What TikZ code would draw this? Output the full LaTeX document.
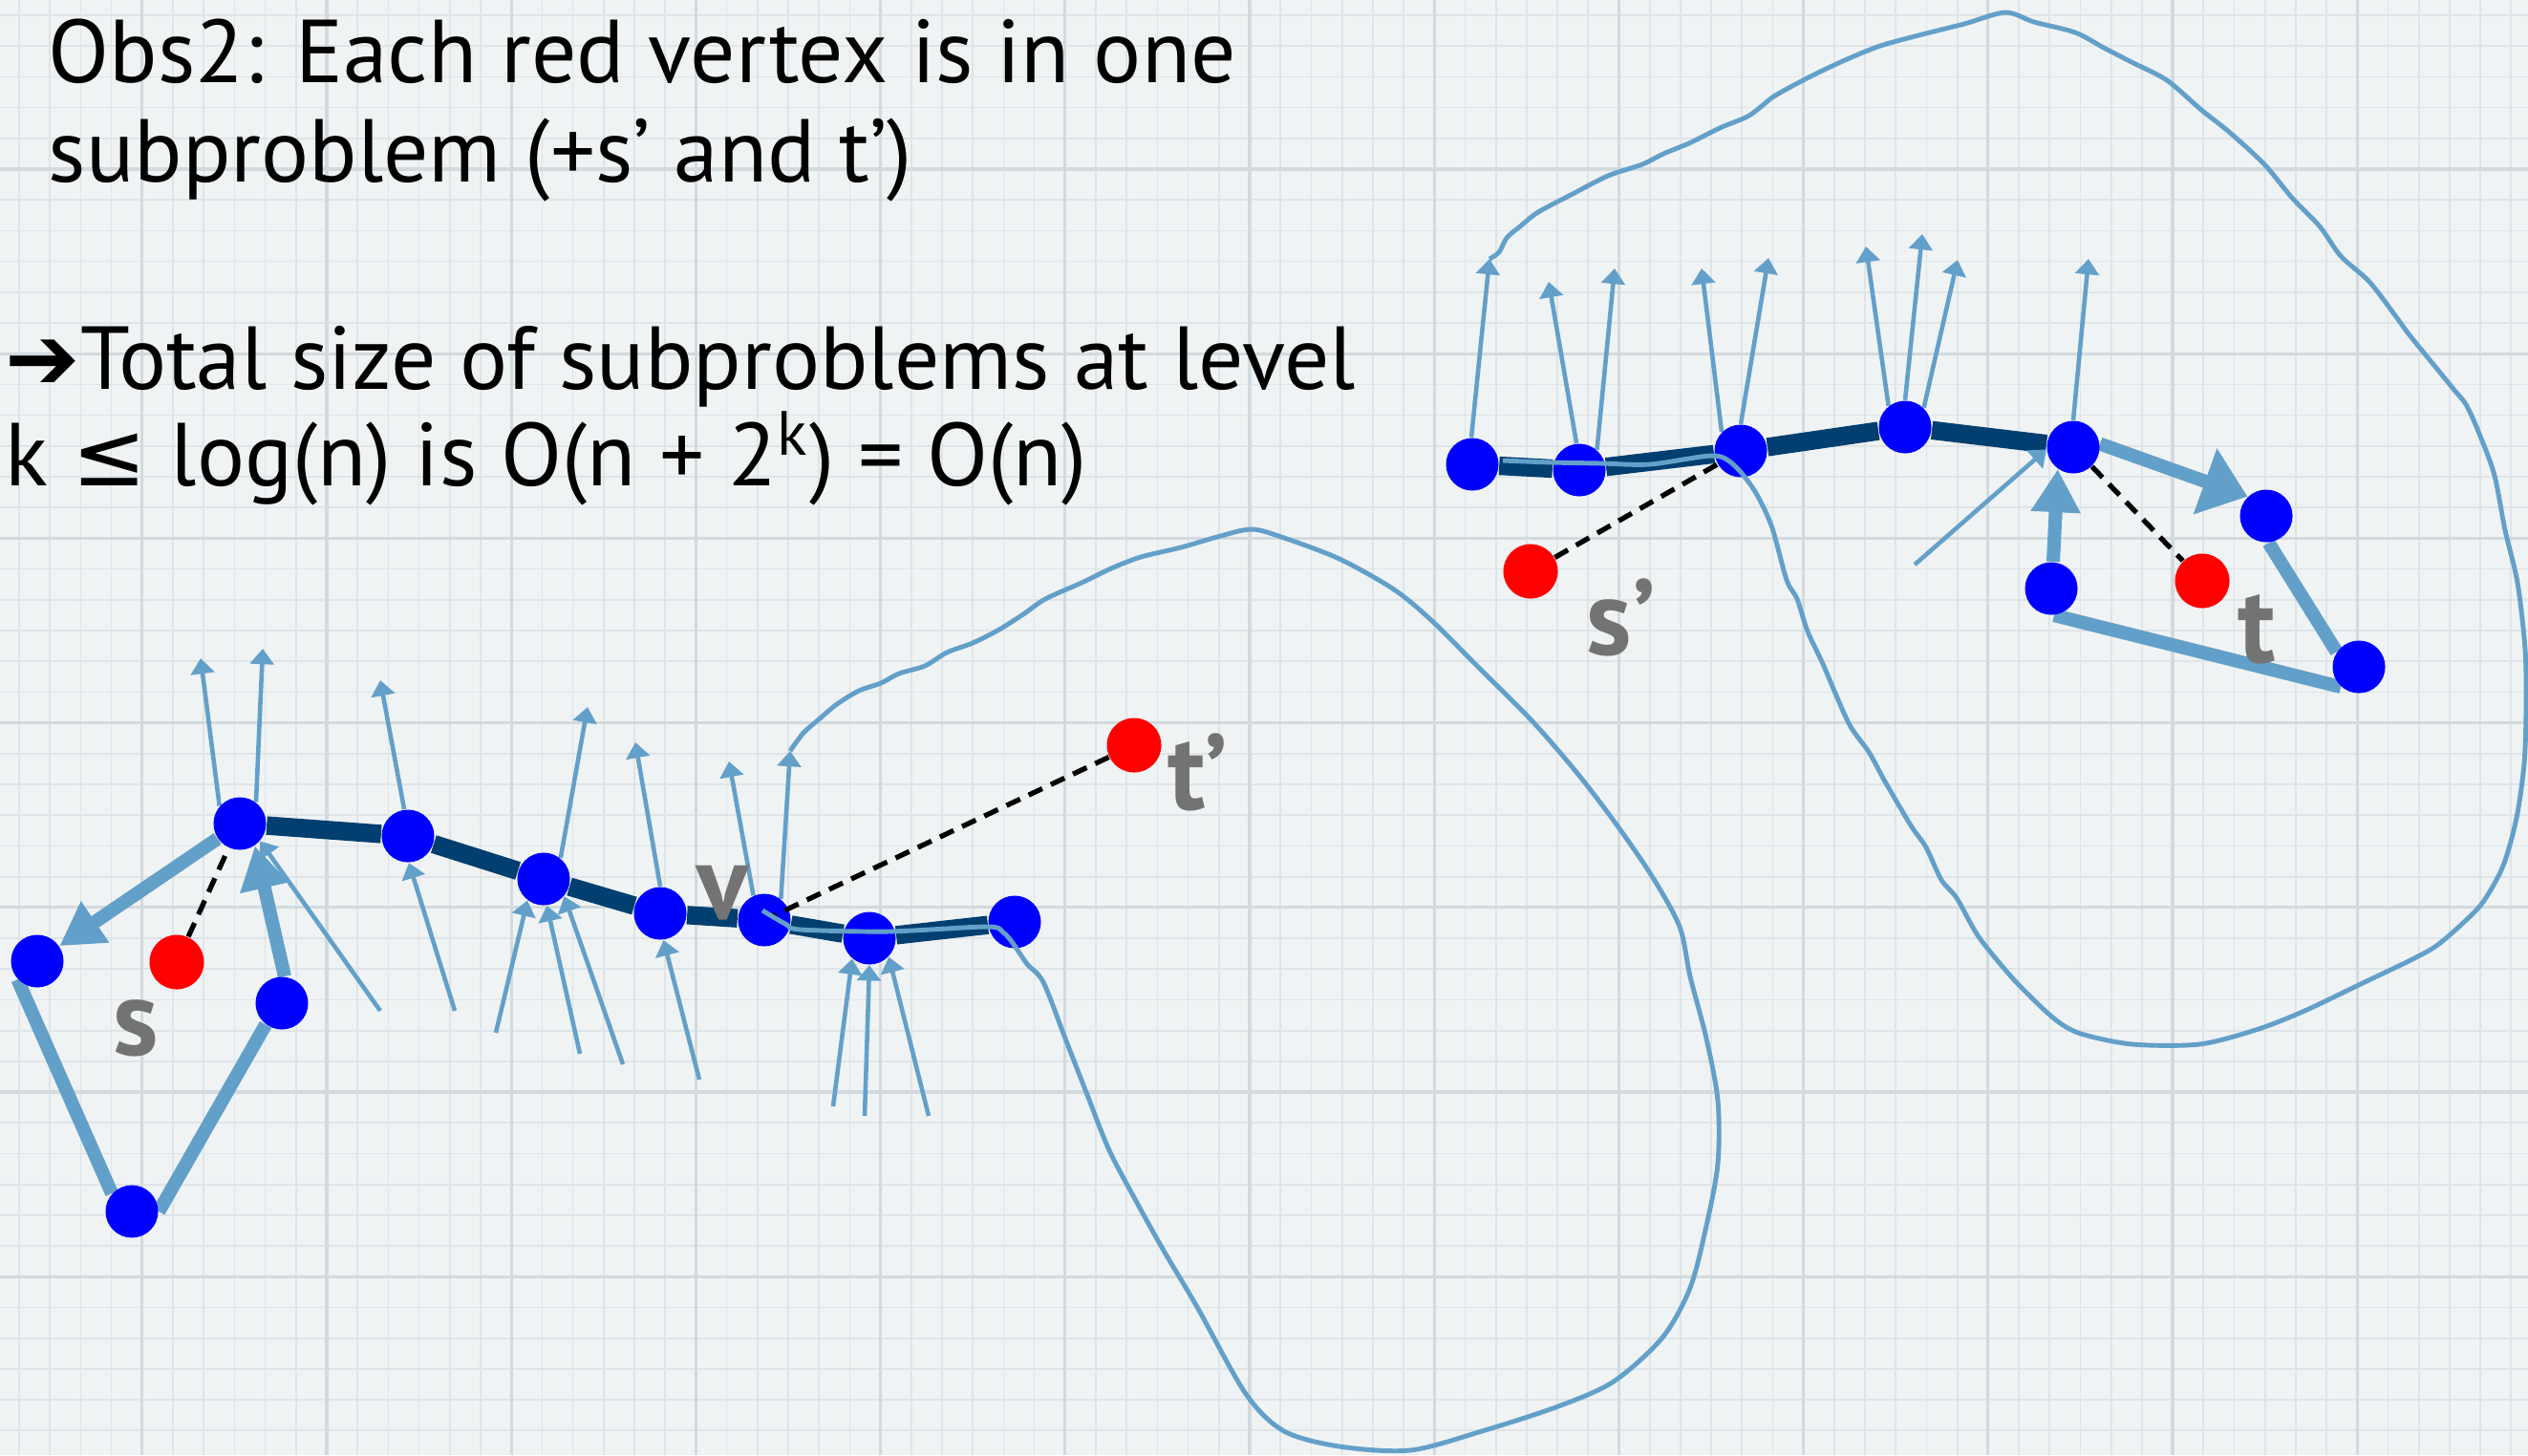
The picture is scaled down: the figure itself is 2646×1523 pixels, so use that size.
\documentclass[tikz,border=0pt]{standalone}
\usepackage{fontspec}
\setmainfont{PT Sans}
\newfontfamily\simboli{DejaVu Sans}
\usetikzlibrary{arrows.meta}
\pgfdeclarelayer{sfondo}
\pgfdeclarelayer{archi}
\pgfsetlayers{sfondo,archi,main}
\definecolor{carta}{HTML}{F0F3F4}
\definecolor{griglia}{HTML}{DEE4E7}
\definecolor{griglia2}{HTML}{D2DADE}
\definecolor{blu}{HTML}{0000FF}
\definecolor{rosso}{HTML}{FF0000}
\definecolor{notte}{HTML}{003F6F}
\definecolor{celeste}{HTML}{63A0C9}
\definecolor{grigio}{HTML}{737373}

\begin{document}
\begin{tikzpicture}[x=0.01cm,y=-0.01cm,
    vblu/.style={circle,fill=blu,inner sep=0pt,minimum size=0.55cm},
    vrosso/.style={circle,fill=rosso,inner sep=0pt,minimum size=0.57cm},
    cammino/.style={notte,line width=5.5pt},
    arcochiaro/.style={celeste,line width=4pt},
    frecciagrande/.style={arcochiaro,-{Triangle[length=12.8pt,width=14pt]}},
    freccialarga/.style={arcochiaro,-{Triangle[length=13.4pt,width=20pt]}},
    freccia/.style={celeste,line width=1.3pt,-{Triangle[length=4.6pt,width=7pt]}},
    tratteggio/.style={black,line width=1.5pt,dash pattern=on 4.5pt off 2.8pt},
    contorno/.style={celeste,line width=1.4pt,line join=round},
    etich/.style={grigio,anchor=base west,inner sep=0pt,
                  font=\fontsize{32}{32}\selectfont\bfseries},
    testo/.style={anchor=base west,inner sep=0pt,
                  font=\fontsize{26.6}{26.6}\selectfont}]

  \useasboundingbox (0,0) rectangle (2646,1523);

  % --- carta a quadretti ---
  \begin{pgfonlayer}{sfondo}
    \fill[carta] (0,0) rectangle (2646,1523);
    \foreach \i in {0,...,81}{
      \draw[griglia,line width=0.5pt] ({20+32.2*\i},0) -- ({20+32.2*\i},1523);
    }
    \foreach \i in {0,...,46}{
      \draw[griglia,line width=0.5pt] (0,{16+32.2*\i}) -- (2646,{16+32.2*\i});
    }
    \foreach \i in {4,10,...,81}{
      \draw[griglia2,line width=0.9pt] ({20+32.2*\i},0) -- ({20+32.2*\i},1523);
    }
    \foreach \i in {5,11,...,46}{
      \draw[griglia2,line width=0.9pt] (0,{16+32.2*\i}) -- (2646,{16+32.2*\i});
    }
  \end{pgfonlayer}

  % --- testo ---
  \node[testo] (riga1) at (50,86) {Obs2: Each red vertex is in one};
  \node[testo] (riga2) at (50,190) {subproblem (+s’ and t’)};
  \node[testo] (riga3) at (5,407) {{\simboli ➔}Total size of subproblems at level};
  \node[testo] (riga4) at (5,508) {k {\simboli ≤} log(n) is O(n + 2\textsuperscript{k}) = O(n)};

  % --- vertici del primo sottoproblema ---
  \foreach \n/\x/\y in {a1/251/862, a2/427/875, a3/569/920, a4/691/956,
                        a5/800/963, a6/910/982, a7/1062/965,
                        q1/39/1006, q2/138/1268, q3/295/1050}{
    \node[vblu] (\n) at (\x,\y) {};
  }
  \node[vrosso] (s) at (185,1007) {};
  \node[vrosso] (tp) at (1187,780) {};

  % --- vertici del secondo sottoproblema ---
  \foreach \n/\x/\y in {b1/1541/486, b2/1653/492, b3/1822/472, b4/1994/447,
                        b5/2170/468, b6/2372/540, b7/2469/698, b8/2147/616}{
    \node[vblu] (\n) at (\x,\y) {};
  }
  \node[vrosso] (sp) at (1602,598) {};
  \node[vrosso] (t) at (2305,608) {};

  % --- etichette ---
  \node[etich] (ls) at (118,1104) {s};
  \node[etich] (lv) at (729,962) {v};
  \node[etich] (ltp) at (1222,847) {t’};
  \node[etich] (lsp) at (1660,685) {s’};
  \node[etich] (lt) at (2342,693) {t};

  \begin{pgfonlayer}{archi}
    % --- cammini scuri ---
    \draw[cammino] (a1) -- (a2) -- (a3) -- (a4) -- (a5) -- (a6) -- (a7);
    \draw[cammino] (b1) -- (b2) -- (b3) -- (b4) -- (b5);

    % --- archi chiari spessi ---
    \draw[frecciagrande] (a1) -- (q1);
    \draw[arcochiaro] (q1.-137) -- (q2.138);
    \draw[arcochiaro] (q2.0) -- (q3.-127);
    \draw[frecciagrande] (q3.84) -- (a1.-56);
    \draw[freccialarga] (b5.7) -- (b6.134);
    \draw[arcochiaro] (b6.-85) -- (b7.146);
    \draw[arcochiaro] (b7.-132) -- (b8.-84);
    \draw[frecciagrande] (b8.86) -- (b5.-125);

    % --- archi uscenti verso l'alto ---
    \foreach \n/\a/\x/\y [count=\i] in {a1/139/210/689, a1/53/275/679,
        a2/98/398/712, a3/51/615/740, a4/90/665/777, a5/114/763/797,
        a5/52/827/786, b1/92/1559/271, b2/96/1621/295, b2/49/1690/281,
        b3/135/1781/281, b3/90/1851/270, b4/128/1953/258, b4/90/2012/245,
        b4/46/2049/272, b5/90/2186/271}{
      \coordinate (su\i) at (\x,\y);
      \draw[freccia] (\n.\a) -- (su\i);
    }

    % --- archi entranti dal basso ---
    \foreach \x/\y/\n/\a [count=\i] in {398/1058/a1/-41, 476/1058/a2/-88,
        519/1081/a3/-127, 607/1103/a3/-83, 652/1114/a3/-40,
        732/1130/a4/-83, 872/1158/a6/-130, 905/1168/a6/-90,
        972/1168/a6/-44, 2004/591/b5/185}{
      \coordinate (giu\i) at (\x,\y);
      \draw[freccia] (giu\i) -- (\n.\a);
    }
  \end{pgfonlayer}

  % --- collegamenti tratteggiati ---
  \draw[tratteggio] (s) -- (a1);
  \draw[tratteggio,shorten >=3pt] (tp) -- (a5.center);
  \draw[tratteggio,shorten >=5.5pt] (sp) -- (b3.center);
  \draw[tratteggio] (b5) -- (t);

  % --- contorno del primo sottoproblema ---
  \draw[contorno] plot[smooth,tension=0.5] coordinates {(su7)
    (841,767) (857,753) (876,737) (899,723) (922,715) (941,705) (968,697)
    (991,683) (1018,673) (1044,660) (1071,643) (1094,627) (1132,610)
    (1163,595) (1194,583) (1236,573) (1274,562) (1310,554) (1344,563)
    (1402,585) (1459,617) (1499,650) (1545,696) (1603,754) (1649,807)
    (1689,859) (1729,917) (1758,970) (1769,1022) (1786,1087) (1798,1152)
    (1798,1218) (1786,1283) (1769,1348) (1740,1400) (1689,1446)
    (1631,1472) (1551,1498) (1476,1518) (1402,1514) (1344,1498)
    (1304,1459) (1253,1368) (1218,1309) (1189,1257) (1161,1204)
    (1138,1146) (1115,1087) (1092,1028) (1075,1009) (1060,987)
    (1050,976) (1033,970) (930,975) (838,973) (822,967) (798,953)};

  % --- contorno del secondo sottoproblema ---
  \draw[contorno] plot[smooth,tension=0.5] coordinates {(su8)
    (1569,264) (1577,249) (1591,237) (1610,222) (1646,203) (1683,184)
    (1719,172) (1741,161) (1770,149) (1800,134) (1829,122) (1844,111)
    (1858,100) (1895,80) (1931,63) (1968,48) (2012,36) (2056,25)
    (2099,13) (2129,23) (2172,34) (2202,50) (2231,65) (2268,84)
    (2304,115) (2333,138) (2370,172) (2399,207) (2428,237) (2450,268)
    (2480,295) (2509,333) (2523,352) (2567,406) (2582,425) (2597,459)
    (2611,498) (2622,555) (2635,610) (2643,680) (2644,741) (2642,799)
    (2634,856) (2620,906) (2599,944) (2577,967) (2550,990) (2523,1005)
    (2475,1028) (2410,1059) (2361,1078) (2302,1093) (2232,1093)
    (2178,1082) (2151,1067) (2118,1036) (2097,1013) (2070,979)
    (2048,940) (2032,921) (2016,887) (2000,864) (1973,818) (1956,787)
    (1935,757) (1908,695) (1892,661) (1881,627) (1870,607) (1854,550)
    (1836,513) (1814,486) (1792,477) (1727,486) (1675,485) (1624,484)
    (1573,482)};

\end{tikzpicture}
\end{document}
